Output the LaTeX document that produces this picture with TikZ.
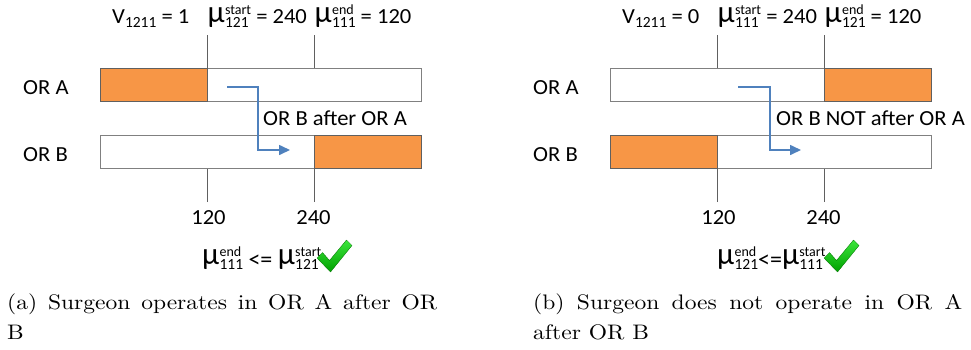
\documentclass[tikz,border=0pt]{standalone}
\usepackage{fontspec}
\newfontfamily\carl{Carlito}
\newfontfamily\lmten{lmroman10-regular}[Extension=.otf]
\usetikzlibrary{arrows.meta}
\definecolor{orOrange}{HTML}{F79646}
\definecolor{orBlue}{HTML}{4F81BD}
\definecolor{barGray}{HTML}{808080}
\definecolor{tickGray}{HTML}{606060}
\definecolor{chkLight}{HTML}{3CE63C}
\definecolor{chkDark}{HTML}{00A000}
% horizontal stretch helpers
\newcommand\lx[1]{\scalebox{1.05}[1]{#1}}
\newcommand\cx[1]{\scalebox{1.12}[1]{#1}}
\newcommand\mymu{\raisebox{0.5pt}{\fontsize{31}{31}\selectfont μ}}
% mu with stacked super/subscript, optional raise
\newcommand\mus[3][0pt]{\raisebox{#1}{%
  \mymu\kern0.3pt%
  \sbox0{\fontsize{14}{14}\selectfont #2}%
  \sbox2{\fontsize{15.5}{15.5}\selectfont #3}%
  \rlap{\raisebox{8.5pt}{\usebox0}}\rlap{\raisebox{-4.7pt}{\usebox2}}%
  \dimen0=\wd0 \ifdim\wd2>\dimen0 \dimen0=\wd2 \fi
  \hspace{\dimen0}}}
\newcommand\vsub[1]{\lx{V}\raisebox{-4.3pt}{\fontsize{15.5}{15.5}\selectfont #1}}
\tikzset{
  bar/.style={draw=barGray, line width=1pt, fill=white, minimum width=321pt, minimum height=33pt, inner sep=0pt, anchor=north west},
  busy/.style={draw=tickGray, line width=0.9pt, fill=orOrange, minimum width=107pt, minimum height=33pt, inner sep=0pt, anchor=north west},
  tick/.style={draw=tickGray, line width=0.9pt},
  flow/.style={draw=orBlue, line width=1.6pt, -{Triangle[length=11pt,width=10pt]}},
  lbl/.style={font=\carl\fontsize{21.5}{21.5}\selectfont, inner sep=0pt, anchor=base west},
  toptxt/.style={font=\carl\fontsize{21.5}{21.5}\selectfont, inner sep=0pt, anchor=base west},
  form/.style={font=\carl\fontsize{24}{24}\selectfont, inner sep=0pt, anchor=base west},
  ticklbl/.style={font=\carl\fontsize{21.5}{21.5}\selectfont, inner sep=0pt, anchor=base},
  caption/.style={font=\lmten\fontsize{21}{21}\selectfont, inner sep=0pt, anchor=base west},
  chk/.style={top color=chkLight, bottom color=chkDark, draw=chkDark!70!black, line width=0.3pt}
}
\newcommand\greencheck[1]{%
  \shade[chk, shift={(#1)}] (0,18) -- (5.5,12.5) -- (12.5,20.5) -- (29.5,0) -- (35,5.5) -- (13.5,32) -- cycle;}
\begin{document}
\begin{tikzpicture}[x=1pt,y=-1pt]
\useasboundingbox (0,0) rectangle (971,349);
% ---------------- left panel (a)
\node[toptxt] (la1) at (112,23) {\vsub{1211}\lx{~=~1}};
\node[toptxt] (la2) at (207.5,23) {\mus{start}{121}\lx{~=~240}};
\node[toptxt] (la3) at (314.5,23) {\mus{end}{111}\lx{~=~120}};
\node[bar] (lA) at (100,68) {};
\node[busy] (lAo) at (100,68) {};
\node[bar] (lB) at (100,135) {};
\node[busy] (lBo) at (314,135) {};
\coordinate (lt1a) at (207,35); \coordinate (lt2a) at (314,35);
\coordinate (lt1b) at (207,202); \coordinate (lt2b) at (314,202);
\draw[tick] (lt1a) -- (lt1a |- lA.north);
\draw[tick] (lt2a) -- (lt2a |- lA.north);
\draw[tick] (lt1b) -- (lt1b |- lB.south);
\draw[tick] (lt2b) -- (lt2b |- lB.south);
\node[lbl] (lORA) at (23,94) {\lx{OR A}};
\node[lbl] (lORB) at (23,161) {\lx{OR B}};
\node[ticklbl] (l120) at (208.5,224) {\lx{120}};
\node[ticklbl] (l240) at (313.5,224) {\lx{240}};
\coordinate (las) at (227,87); \coordinate (lac) at (258,150); \coordinate (lae) at (290,150);
\draw[flow] (las) -| (lac) -- (lae);
\node[lbl] (lflow) at (263,125) {\lx{OR B after OR A}};
\node[form] (lform) at (202,267.5) {\mus[3pt]{end}{111} <= \mus[3pt]{start}{121}};
\greencheck{317,240}
\node[caption] (capa1) at (7,309) {\cx{\makebox[384pt][s]{(a) Surgeon operates in OR A after OR}}};
\node[caption] (capa2) at (7,339) {\cx{B}};
% ---------------- right panel (b)
\node[toptxt] (ra1) at (622,23) {\vsub{1211}\lx{~=~0}};
\node[toptxt] (ra2) at (717.5,23) {\mus{start}{111}\lx{~=~240}};
\node[toptxt] (ra3) at (824.5,23) {\mus{end}{121}\lx{~=~120}};
\node[bar] (rA) at (610,68) {};
\node[busy] (rAo) at (824,68) {};
\node[bar] (rB) at (610,135) {};
\node[busy] (rBo) at (610,135) {};
\coordinate (rt1a) at (717,35); \coordinate (rt2a) at (824,35);
\coordinate (rt1b) at (717,202); \coordinate (rt2b) at (824,202);
\draw[tick] (rt1a) -- (rt1a |- rA.north);
\draw[tick] (rt2a) -- (rt2a |- rA.north);
\draw[tick] (rt1b) -- (rt1b |- rB.south);
\draw[tick] (rt2b) -- (rt2b |- rB.south);
\node[lbl] (rORA) at (533,94) {\lx{OR A}};
\node[lbl] (rORB) at (533,161) {\lx{OR B}};
\node[ticklbl] (r120) at (718.5,224) {\lx{120}};
\node[ticklbl] (r240) at (823.5,224) {\lx{240}};
\coordinate (ras) at (738,87); \coordinate (rac) at (770,150); \coordinate (rae) at (801,150);
\draw[flow] (ras) -| (rac) -- (rae);
\node[lbl] (rflow) at (776,125) {\lx{OR B NOT after OR A}};
\node[form] (rform) at (717,267.5) {\mus[3pt]{end}{121}<=\mus[3pt]{start}{111}};
\greencheck{824,240}
\node[caption] (capb1) at (533,309) {\cx{\makebox[383pt][s]{(b) Surgeon does not operate in OR A}}};
\node[caption] (capb2) at (533,339) {\cx{after OR B}};
\end{tikzpicture}
\end{document}
